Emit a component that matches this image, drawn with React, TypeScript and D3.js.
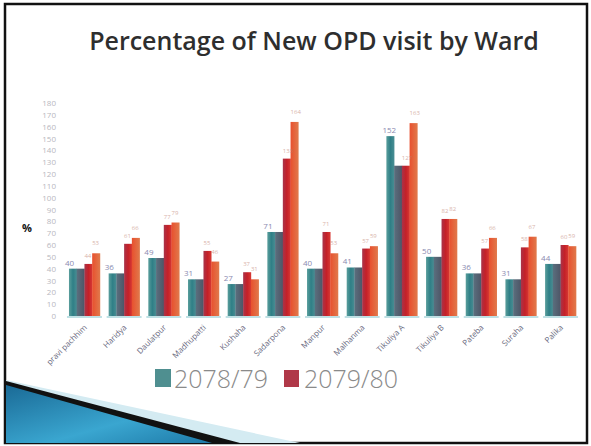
import React from "react";
import * as d3 from "d3";

const categories = ["pravi pachhim","Haridya","Daulatpur","Madhupatti","Kushaha","Sadarpona","Manpur","Malhanma","Tikuliya A","Tikuliya B","Pateba","Suraha","Palika"];
const s2078a = [40, 36, 49, 31, 27, 71, 40, 41, 152, 50, 36, 31, 44];
const s2078b = [40, 36, 49, 31, 27, 71, 40, 41, 127, 50, 36, 31, 44];
const s2079a = [44, 61, 77, 55, 37, 133, 71, 57, 127, 82, 57, 58, 60];
const s2079b = [53, 66, 79, 46, 31, 164, 53, 59, 163, 82, 66, 67, 59];
const yTicks = d3.range(0, 181, 10);
const legendLabels = ["2078/79", "2079/80"];

const W = 591, H = 446;

export default function App() {
  const x = d3.scaleBand<string>().domain(categories).range([65, 580]).paddingInner(0.22).paddingOuter(0.1);
  const y = d3.scaleLinear().domain([0, 180]).range([316, 103]);
  const series = [
    { vals: s2078a, grad: "gTeal" },
    { vals: s2078b, grad: "gSlate" },
    { vals: s2079a, grad: "gRed" },
    { vals: s2079b, grad: "gOrange" },
  ];
  const sub = d3.scaleBand<number>().domain([0, 1, 2, 3]).range([0, x.bandwidth()]);
  return (
    <svg width={W} height={H} style={{ position: "absolute", left: 0, top: 0, background: "#fff" }}>
      <defs>
        <linearGradient id="gTeal" x1="0" x2="1">
          <stop offset="0" stopColor="#5a9e9c" /><stop offset="0.5" stopColor="#2f7f86" /><stop offset="1" stopColor="#4a8e94" />
        </linearGradient>
        <linearGradient id="gSlate" x1="0" x2="1">
          <stop offset="0" stopColor="#5b6f7e" /><stop offset="1" stopColor="#4d5566" />
        </linearGradient>
        <linearGradient id="gRed" x1="0" x2="1">
          <stop offset="0" stopColor="#a8344a" /><stop offset="0.5" stopColor="#c42028" /><stop offset="1" stopColor="#d83a34" />
        </linearGradient>
        <linearGradient id="gOrange" x1="0" x2="1">
          <stop offset="0" stopColor="#e8502e" /><stop offset="1" stopColor="#e07a4c" />
        </linearGradient>
        <linearGradient id="gBlue" x1="0" y1="0" x2="1" y2="1">
          <stop offset="0" stopColor="#1a6a96" /><stop offset="0.6" stopColor="#3aa6d0" /><stop offset="1" stopColor="#1e7aa8" />
        </linearGradient>
      </defs>
      <rect x={5} y={4} width={582} height={439} fill="#fff" stroke="#111" strokeWidth={2.5} />
      <text x={314} y={50} textAnchor="middle" fontFamily="Open Sans" fontWeight={600} fontSize={25} fill="#2e2e2e">Percentage of New OPD visit by Ward</text>
      {yTicks.map(t => (
        <text key={t} x={56} y={y(t) + 3} textAnchor="end" fontFamily="Open Sans" fontSize={8} fill="#b8b8c0">{t}</text>
      ))}
      <text x={22} y={232} fontFamily="Open Sans" fontWeight="bold" fontSize={11} fill="#111">%</text>
      {categories.map((c, i) => (
        <g key={c} transform={`translate(${x(c)},0)`}>
          <rect x={-2} y={316} width={x.bandwidth() + 4} height={2} fill="#bfe0e4" />
          {series.map((s, k) => (
            <rect key={k} x={sub(k)} y={y(s.vals[i])} width={sub.bandwidth() + 0.3} height={316 - y(s.vals[i])} fill={`url(#${s.grad})`} />
          ))}
          <text x={-4} y={y(s2078a[i]) - 3} fontFamily="Open Sans" fontSize={8} fill="#8a8ab0">{s2078a[i]}</text>
          <text x={sub(2)} y={y(s2079a[i]) - 6} fontFamily="Open Sans" fontSize={6} fill="#c08070" opacity={0.6}>{s2079a[i]}</text>
          <text x={sub(3)} y={y(s2079b[i]) - 8} fontFamily="Open Sans" fontSize={6} fill="#c08070" opacity={0.6}>{s2079b[i]}</text>
          <text transform={`translate(${x.bandwidth() / 2 + 3},328) rotate(-45)`} textAnchor="end" fontFamily="Open Sans" fontSize={8} fill="#6a6a80">{c}</text>
        </g>
      ))}
      <rect x={155} y={369} width={16} height={18} fill="#4f8f90" />
      <text x={174} y={388} fontFamily="Open Sans" fontWeight={300} fontSize={25} fill="#8a8a8a">{legendLabels[0]}</text>
      <rect x={284} y={370} width={15} height={17} fill="#b03848" />
      <text x={304} y={388} fontFamily="Open Sans" fontWeight={300} fontSize={25} fill="#8a8a8a">{legendLabels[1]}</text>
      <polygon points="6,380 300,443 6,443" fill="#d4ebf2" />
      <polygon points="6,381 240,443 6,443" fill="#111" />
      <polygon points="6,385 212,443 6,443" fill="url(#gBlue)" />
    </svg>
  );
}
